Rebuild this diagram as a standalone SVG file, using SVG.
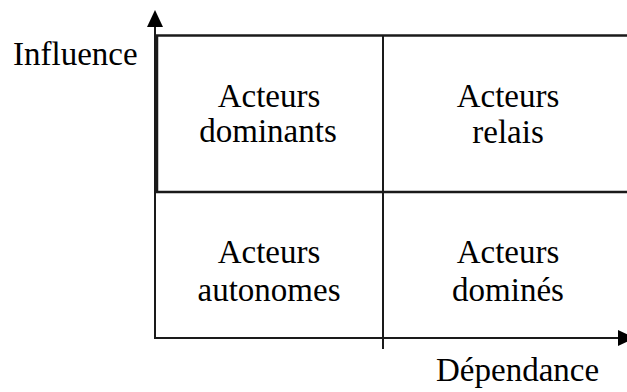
<svg xmlns="http://www.w3.org/2000/svg" width="627" height="392" viewBox="0 0 627 392">
<style>
.t{font-family:"Liberation Serif","Times New Roman",serif;font-size:33px;fill:#000}
.c{text-anchor:middle}
.ln{stroke:#1a1a1a;fill:none}
</style>
<rect width="627" height="392" fill="#fff"/>
<g id="connectors">
<line class="ln" x1="155" y1="25" x2="155" y2="339" stroke-width="2"/>
<polygon points="155,10 147,27 163,27" fill="#000"/>
<line class="ln" x1="154" y1="338" x2="619" y2="338" stroke-width="2"/>
<polygon points="635,338 618,330 618,346" fill="#000"/>
</g>
<g id="grid">
<line class="ln" x1="156" y1="35.5" x2="627" y2="35.5" stroke-width="2.5"/>
<line class="ln" x1="156.5" y1="35" x2="156.5" y2="192" stroke-width="3.5"/>
<line class="ln" x1="155" y1="192" x2="627" y2="192" stroke-width="2.5"/>
<line class="ln" x1="383" y1="35" x2="383" y2="349" stroke-width="2"/>
</g>
<g id="axis-y-label"><text class="t" x="13" y="65">Influence</text></g>
<g id="axis-x-label"><text class="t" x="436" y="381">Dépendance</text></g>
<g id="dominants">
<text class="t c" x="269" y="107">Acteurs</text>
<text class="t c" x="268" y="142">dominants</text>
</g>
<g id="relais">
<text class="t c" x="508" y="107">Acteurs</text>
<text class="t c" x="508" y="143">relais</text>
</g>
<g id="autonomes">
<text class="t c" x="269" y="263">Acteurs</text>
<text class="t c" x="269" y="301">autonomes</text>
</g>
<g id="domines">
<text class="t c" x="508" y="263">Acteurs</text>
<text class="t c" x="508" y="301">dominés</text>
</g>
</svg>
